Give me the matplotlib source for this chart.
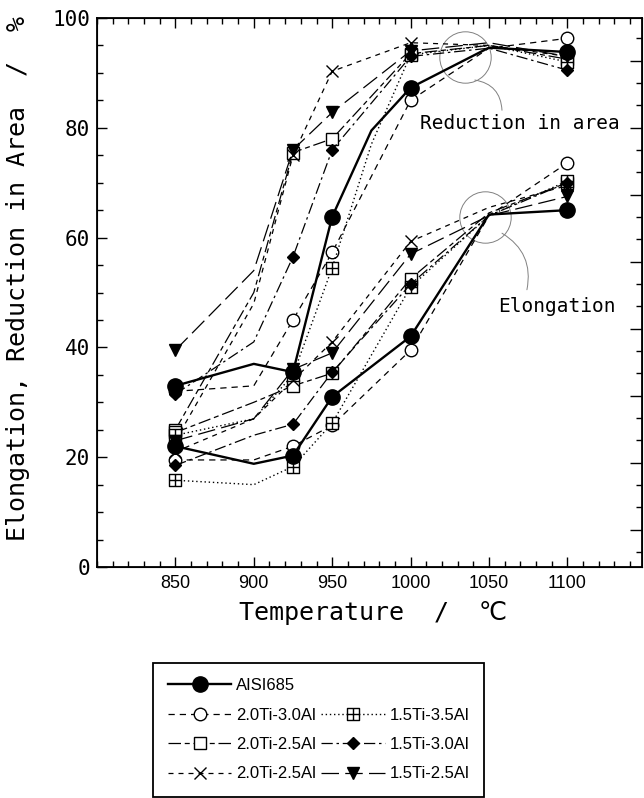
import numpy as np
import matplotlib
matplotlib.use('Agg')
import matplotlib.pyplot as plt
from matplotlib.path import Path
from matplotlib.lines import Line2D
from matplotlib.ticker import MultipleLocator

'''DATA'''
# temperatures (RA curves have an extra kink at 975 for some series)
temp_ra = [850, 900, 925, 950, 975, 1000, 1050, 1100]
temp_el = [850, 900, 925, 950, 1000, 1050, 1100]

labels = ['AISI685', '2.0Ti-3.0Al', '2.0Ti-2.5Al', '2.0Ti-2.5Al',
          '1.5Ti-3.5Al', '1.5Ti-3.0Al', '1.5Ti-2.5Al']

# reduction in area / %
ra_aisi = [33, 37, 35.5, 63.8, 79.5, 87.3, 94.6, 93.8]
ra_20_30 = [32, 33, 45, 57.3, None, 85, 94.5, 96.3]
ra_20_25a = [25, 50, 75.5, 78, None, 93.5, 95, 92.5]
ra_20_25b = [23, 48, 75, 90.3, None, 95.5, 95, 93]
ra_15_35 = [24, 27, 35, 54.5, 77, 93.3, 95, 92]
ra_15_30 = [31.5, 41, 56.5, 76, None, 93, 94.5, 90.5]
ra_15_25 = [39.5, 54, 76, 82.8, None, 94, 95.5, 93]

# elongation / %
el_aisi = [22, 18.8, 20.3, 31, 42, 64.2, 65]
el_20_30 = [19.5, 19.5, 22, 25.8, 39.5, 64, 73.6]
el_20_25a = [24.5, 30, 33, 35.3, 52.5, 64.5, 70]
el_20_25b = [21, 27, 34, 41, 59.3, 65.5, 69.5]
el_15_35 = [15.8, 15, 18.3, 26.2, 51, 64, 70.3]
el_15_30 = [18.5, 24, 26, 35.5, 51.5, 64, 70]
el_15_25 = [23, 27, 36, 39, 57, 64, 67.5]

ra_all = [ra_aisi, ra_20_30, ra_20_25a, ra_20_25b, ra_15_35, ra_15_30, ra_15_25]
el_all = [el_aisi, el_20_30, el_20_25a, el_20_25b, el_15_35, el_15_30, el_15_25]

# temperatures that carry a marker
marked_temps = [850, 925, 950, 1000, 1100]

'''STYLES'''
# square with a cross inside (boxplus)
boxplus = Path([(-1, -1), (1, -1), (1, 1), (-1, 1), (-1, -1),
                (-1, 0), (1, 0), (0, -1), (0, 1)],
               [Path.MOVETO, Path.LINETO, Path.LINETO, Path.LINETO, Path.CLOSEPOLY,
                Path.MOVETO, Path.LINETO, Path.MOVETO, Path.LINETO])

styles = [
    dict(ls='-', lw=1.7, marker='o', ms=11, mfc='black', zorder=10),
    dict(ls=(0, (5, 4)), lw=0.9, marker='o', ms=9, mfc='white', zorder=5),
    dict(ls=(0, (10, 3, 4, 3)), lw=0.9, marker='s', ms=8, mfc='white', zorder=5),
    dict(ls=(0, (4, 4)), lw=0.9, marker='x', ms=9, mfc='white', zorder=5),
    dict(ls=(0, (1, 2)), lw=1.0, marker=boxplus, ms=8, mfc='white', zorder=5),
    dict(ls=(0, (9, 3, 2, 3)), lw=0.9, marker='D', ms=6, mfc='black', zorder=5),
    dict(ls=(0, (14, 5)), lw=0.9, marker='v', ms=8, mfc='black', zorder=5),
]

mono = ['DejaVu Sans Mono', 'DejaVu Sans', 'Noto Sans CJK JP']

'''PLOT'''
fig = plt.figure(figsize=(6.44, 7.98), dpi=100)
ax = fig.add_axes([97 / 644, 1 - 567 / 798, (642 - 97) / 644, (567 - 18) / 798])


def draw(temps, vals, st):
    t = np.array([x for x, v in zip(temps, vals) if v is not None], dtype=float)
    v = np.array([v for v in vals if v is not None], dtype=float)
    mk = [i for i, x in enumerate(t) if x in marked_temps]
    return ax.plot(t, v, color='black', markeredgecolor='black', markevery=mk,
                   markeredgewidth=1.0, **st)[0]


handles = []
for ra, el, st in zip(ra_all, el_all, styles):
    draw(temp_ra, ra, st)
    h = draw(temp_el, el, st)
    handles.append(h)

# gray circles and leader lines
ax.plot([1034.7], [92.9], 'o', ms=37, mfc='none', mec='gray', mew=0.7, zorder=3)
ax.plot([1047.4], [63.8], 'o', ms=37, mfc='none', mec='gray', mew=0.7, zorder=3)
ax.annotate('', xy=(1058.3, 83.2), xytext=(1041, 88.7),
            arrowprops=dict(arrowstyle='-', color='gray', lw=0.7,
                            connectionstyle='arc3,rad=-0.4', shrinkA=0, shrinkB=0))
ax.annotate('', xy=(1074.2, 50.5), xytext=(1058.3, 60.8),
            arrowprops=dict(arrowstyle='-', color='gray', lw=0.7,
                            connectionstyle='arc3,rad=-0.35', shrinkA=0, shrinkB=0))
ax.text(1006, 80.7, 'Reduction in area', family=mono, fontsize=14, va='center')
ax.text(1055.7, 47.4, 'Elongation', family=mono, fontsize=14, va='center')

# axes
ax.set_xlim(800, 1147.6)
ax.set_ylim(0, 100)
ax.set_xticks([850, 900, 950, 1000, 1050, 1100])
ax.xaxis.set_minor_locator(MultipleLocator(10))
ax.set_yticks([0, 20, 40, 60, 80, 100])
ax.yaxis.set_minor_locator(MultipleLocator(5))
ax.tick_params(which='both', direction='in', top=True, right=False, width=1)
ax.tick_params(which='major', length=7)
ax.tick_params(which='minor', length=4)
ax.tick_params(axis='x', labelsize=13, pad=6)
for lab in ax.get_xticklabels():
    lab.set_family('Liberation Sans')
ax.tick_params(axis='y', labelsize=15, pad=5)
for lab in ax.get_yticklabels():
    lab.set_family('DejaVu Sans Mono')
for sp in ax.spines.values():
    sp.set_linewidth(1.3)

# right axis ticks use their own spacing
ax2 = ax.twinx()
ax2.set_ylim(-6.8 / 12.2, (100 - 6.8) / 12.2)
ax2.yaxis.set_major_locator(MultipleLocator(1))
ax2.yaxis.set_minor_locator(MultipleLocator(1 / 3))
ax2.tick_params(which='both', direction='in', labelright=False, width=1)
ax2.tick_params(which='major', length=9)
ax2.tick_params(which='minor', length=4)

ax.set_xlabel('Temperature  /  \u2103', family=mono, fontsize=18)
ax.xaxis.set_label_coords(0.507, -0.062)
ax.set_ylabel('Elongation, Reduction in Area  /  %', family=mono, fontsize=18)
ax.yaxis.set_label_coords(-0.123, 0.526)

# legend: AISI on its own row, second column starts one row lower
blank = Line2D([], [], linestyle='none', marker='none')
leg_handles = handles[:4] + [blank] + handles[4:]
leg_labels = labels[:4] + [''] + labels[4:]
leg = fig.legend(leg_handles, leg_labels, loc='upper left',
                 bbox_to_anchor=(153 / 644, 1 - 663 / 798), ncol=2,
                 prop={'family': 'Liberation Sans', 'size': 12},
                 handlelength=3.8, handletextpad=0.3, columnspacing=0.3,
                 labelspacing=0.87, borderpad=0.9, borderaxespad=0,
                 fancybox=False, edgecolor='black', framealpha=1)
leg.get_frame().set_linewidth(1.3)

fig.savefig('out.png', dpi=100)
